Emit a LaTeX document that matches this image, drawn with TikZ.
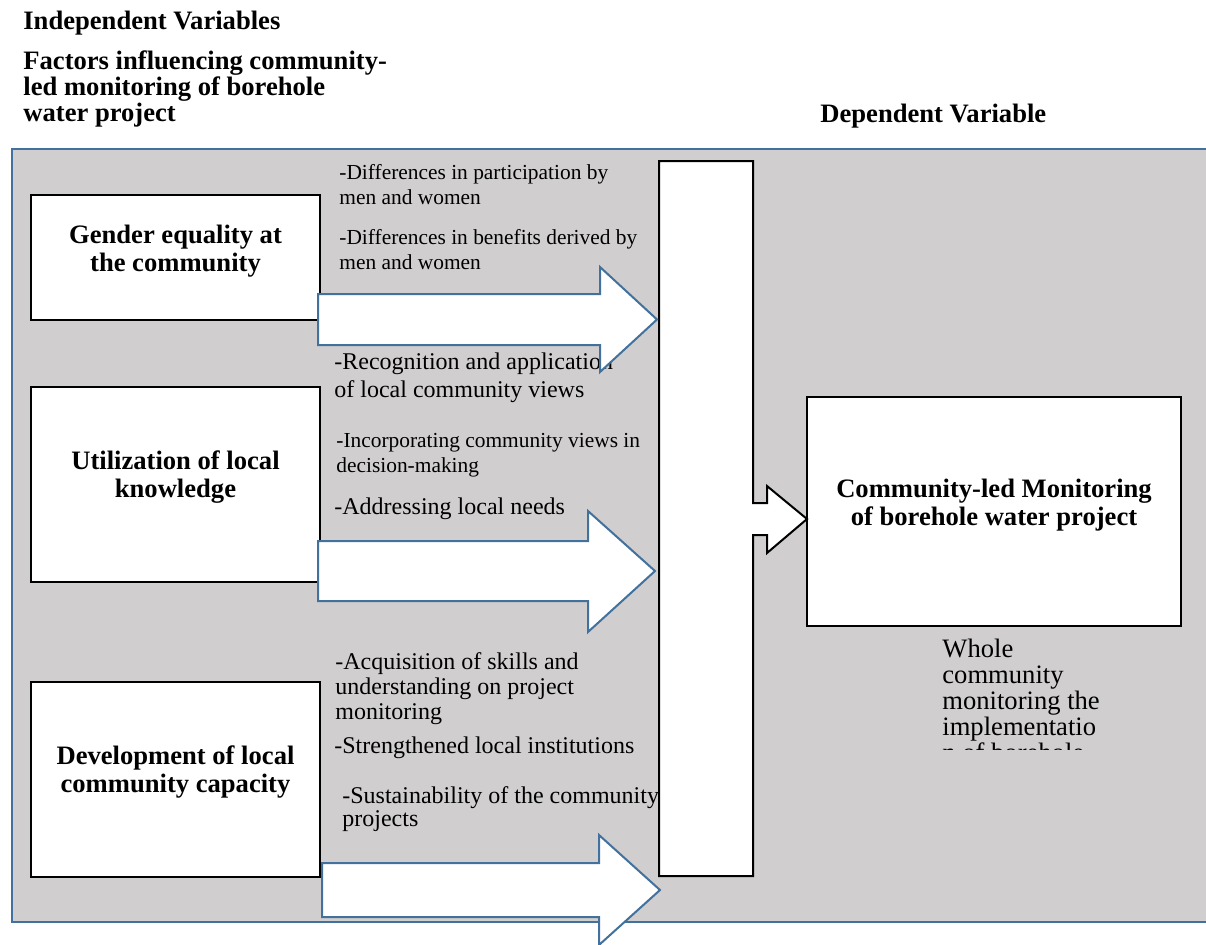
\documentclass[tikz,border=0pt]{standalone}
\usepackage{fontspec}
\setmainfont{Liberation Serif}
\definecolor{panelgray}{HTML}{D0CECE}
\definecolor{panelblue}{HTML}{41719C}
\begin{document}
\begin{tikzpicture}[x=0.5pt,y=-0.5pt,
  box/.style={draw=black,line width=1pt,fill=white,inner sep=0pt,outer sep=0pt},
  headtext/.style={font=\fontsize{13.3}{13}\selectfont\bfseries,align=left,anchor=base west,inner sep=0pt},
  boxtext/.style={font=\fontsize{13.3}{14}\selectfont\bfseries,align=center,inner sep=0pt},
  smalltext/.style={font=\fontsize{10.7}{12.5}\selectfont,align=left,anchor=base west,inner sep=0pt},
  midtext/.style={font=\fontsize{12}{12.5}\selectfont,align=left,anchor=base west,inner sep=0pt},
  wholetext/.style={font=\fontsize{13.3}{13}\selectfont,align=left,anchor=base west,inner sep=0pt},
  blockarrow/.style={draw=panelblue,line width=1pt,fill=white,line join=miter},
  bararrow/.style={draw=black,line width=1pt,fill=white,line join=miter},
]
\useasboundingbox (0,0) rectangle (1206,944);

% panel
\fill[panelgray] (12,149) rectangle (1206,922);
\draw[panelblue,line width=1pt] (1206,149) -- (12,149) -- (12,922) -- (1206,922);

% headings (base anchor = baseline of last line)
\node[headtext] (hiv) at (23,29) {Independent Variables};
\node[headtext] (hfac) at (23,121) {Factors influencing community-\\led monitoring of borehole\\water project};
\node[headtext] (hdv) at (820,122) {Dependent Variable};

% indicator texts
\node[smalltext] (t1) at (339,204) {-Differences in participation by\\men and women};
\node[smalltext] (t2) at (339,269) {-Differences in benefits derived by\\men and women};
\node[midtext,font=\fontsize{12}{14}\selectfont] (t3) at (334,397) {-Recognition and application\\of local community views};
\node[smalltext] (t4) at (336,472) {-Incorporating community views in\\decision-making};
\node[midtext] (t5) at (334,514) {-Addressing local needs};
\node[midtext] (t6) at (335,719) {-Acquisition of skills and\\understanding on project\\monitoring};
\node[midtext] (t7) at (334,753) {-Strengthened local institutions};
\node[midtext,font=\fontsize{12}{11.5}\selectfont] (t8) at (342,826) {-Sustainability of the community\\projects};

% clipped text under dependent box
\begin{scope}
\clip (930,630) rectangle (1130,749);
\node[wholetext] (whole) at (942,761) {Whole\\community\\monitoring the\\implementatio\\n of borehole};
\end{scope}

% boxes
\node[box,minimum width=144.5pt,minimum height=62.5pt] (b1) at (175.5,257.5) {};
\node[boxtext] (b1t) at (175.5,251) {Gender equality at\\the community};
\node[box,minimum width=144.5pt,minimum height=97.5pt] (b2) at (175.5,484.5) {};
\node[boxtext] (b2t) at (175.5,477) {Utilization of local\\knowledge};
\node[box,minimum width=144.5pt,minimum height=97.5pt] (b3) at (175.5,779.5) {};
\node[boxtext] (b3t) at (175.5,772) {Development of local\\community capacity};
\node[box,minimum width=187pt,minimum height=114.5pt] (dv) at (994,511.5) {};
\node[boxtext] (dvt) at (994,505) {Community-led Monitoring\\of borehole water project};

% collecting bar with arrow to dependent variable
\draw[bararrow] (659,161) -- (753,161) -- (753,503) -- (767,503) -- (767,486)
  -- (dv.west |- 0,519) -- (767,553) -- (767,535) -- (753,535) -- (753,876) -- (659,876) -- cycle;

% block arrows
\draw[blockarrow] (318,294) -- (600,294) -- (600,267) -- (657,319.5) -- (600,372) -- (600,345) -- (318,345) -- cycle;
\draw[blockarrow] (318,541) -- (588,541) -- (588,511) -- (655,571) -- (588,632) -- (588,601) -- (318,601) -- cycle;
\draw[blockarrow] (322,863) -- (599,863) -- (599,835) -- (660,890) -- (599,945) -- (599,917) -- (322,917) -- cycle;
\end{tikzpicture}
\end{document}
